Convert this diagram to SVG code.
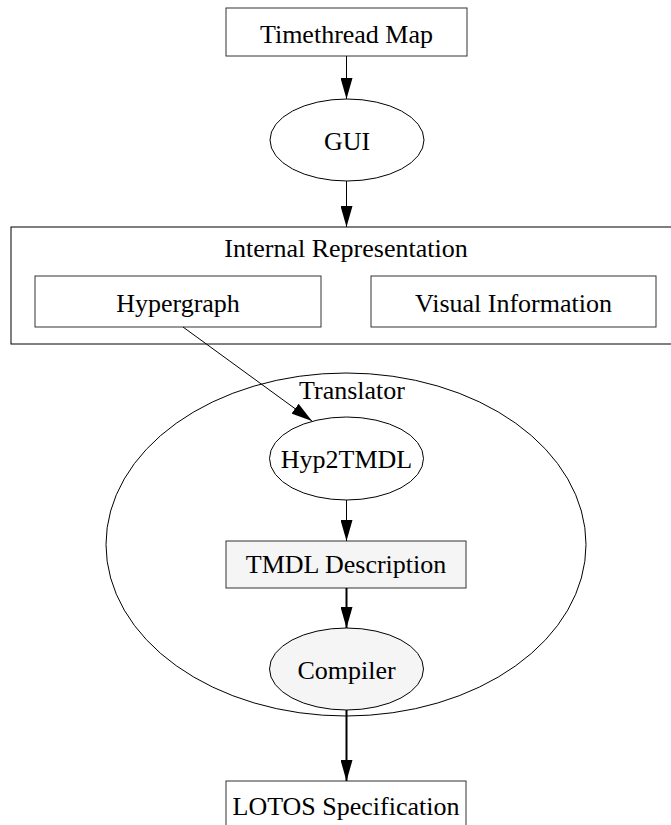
<svg xmlns="http://www.w3.org/2000/svg" width="671" height="825" viewBox="0 0 671 825">
<style>
  text { font-family: "Liberation Serif", "Times New Roman", serif; font-size: 26px; fill: #000; text-anchor: middle; }
  .box { fill: #fff; stroke: #333; stroke-width: 1; }
  .fbox { fill: #f5f5f5; stroke: #333; stroke-width: 1; }
  .ell { fill: #fff; stroke: #000; stroke-width: 1; }
  .fell { fill: #f5f5f5; stroke: #000; stroke-width: 1; }
  .cl { fill: none; stroke: #000; stroke-width: 1; }
  .edge { fill: none; stroke: #000; stroke-width: 1; }
  .bold { stroke-width: 2; }
</style>
<defs>
  <marker id="ah" markerUnits="userSpaceOnUse" markerWidth="21" markerHeight="12" refX="21" refY="6" orient="auto">
    <path d="M0,0 L21,6 L0,12 z" fill="#000"/>
  </marker>
</defs>
<rect width="671" height="825" fill="#fff"/>

<g id="cluster-internal">
  <rect class="cl" x="11" y="227" width="670" height="117"/>
  <text x="346" y="257">Internal Representation</text>
</g>
<g id="cluster-translator">
  <ellipse class="cl" cx="346" cy="544.5" rx="240" ry="171.5"/>
  <text x="352" y="399">Translator</text>
</g>

<g id="timethread">
  <rect class="box" x="226" y="8" width="241" height="48"/>
  <text x="346.5" y="43">Timethread Map</text>
</g>
<g id="gui">
  <ellipse class="ell" cx="347" cy="140" rx="77" ry="41"/>
  <text x="347" y="150">GUI</text>
</g>
<g id="hypergraph">
  <rect class="box" x="35" y="276" width="286" height="51"/>
  <text x="178" y="311.5">Hypergraph</text>
</g>
<g id="visual">
  <rect class="box" x="371" y="276" width="285" height="51"/>
  <text x="513.5" y="311.5">Visual Information</text>
</g>
<g id="hyp2tmdl">
  <ellipse class="ell" cx="346.5" cy="458.5" rx="77" ry="41.5"/>
  <text x="346.5" y="468">Hyp2TMDL</text>
</g>
<g id="tmdl">
  <rect class="fbox" x="226" y="541" width="240" height="47"/>
  <text x="346" y="573">TMDL Description</text>
</g>
<g id="compiler">
  <ellipse class="fell" cx="346.5" cy="669" rx="77" ry="41"/>
  <text x="346.5" y="679">Compiler</text>
</g>
<g id="lotos">
  <rect class="box" x="226" y="781" width="240" height="50"/>
  <text x="346" y="815">LOTOS Specification</text>
</g>

<g id="connectors">
  <line class="edge" x1="346.5" y1="56" x2="346.5" y2="99" marker-end="url(#ah)"/>
  <line class="edge" x1="346.5" y1="181" x2="346.5" y2="227" marker-end="url(#ah)"/>
  <line class="edge" x1="183" y1="327" x2="312" y2="421" marker-end="url(#ah)"/>
  <line class="edge" x1="346.5" y1="500" x2="346.5" y2="541" marker-end="url(#ah)"/>
  <line class="edge bold" x1="346.5" y1="588" x2="346.5" y2="628" marker-end="url(#ah)"/>
  <line class="edge bold" x1="346.5" y1="710" x2="346.5" y2="781" marker-end="url(#ah)"/>
</g>
</svg>
